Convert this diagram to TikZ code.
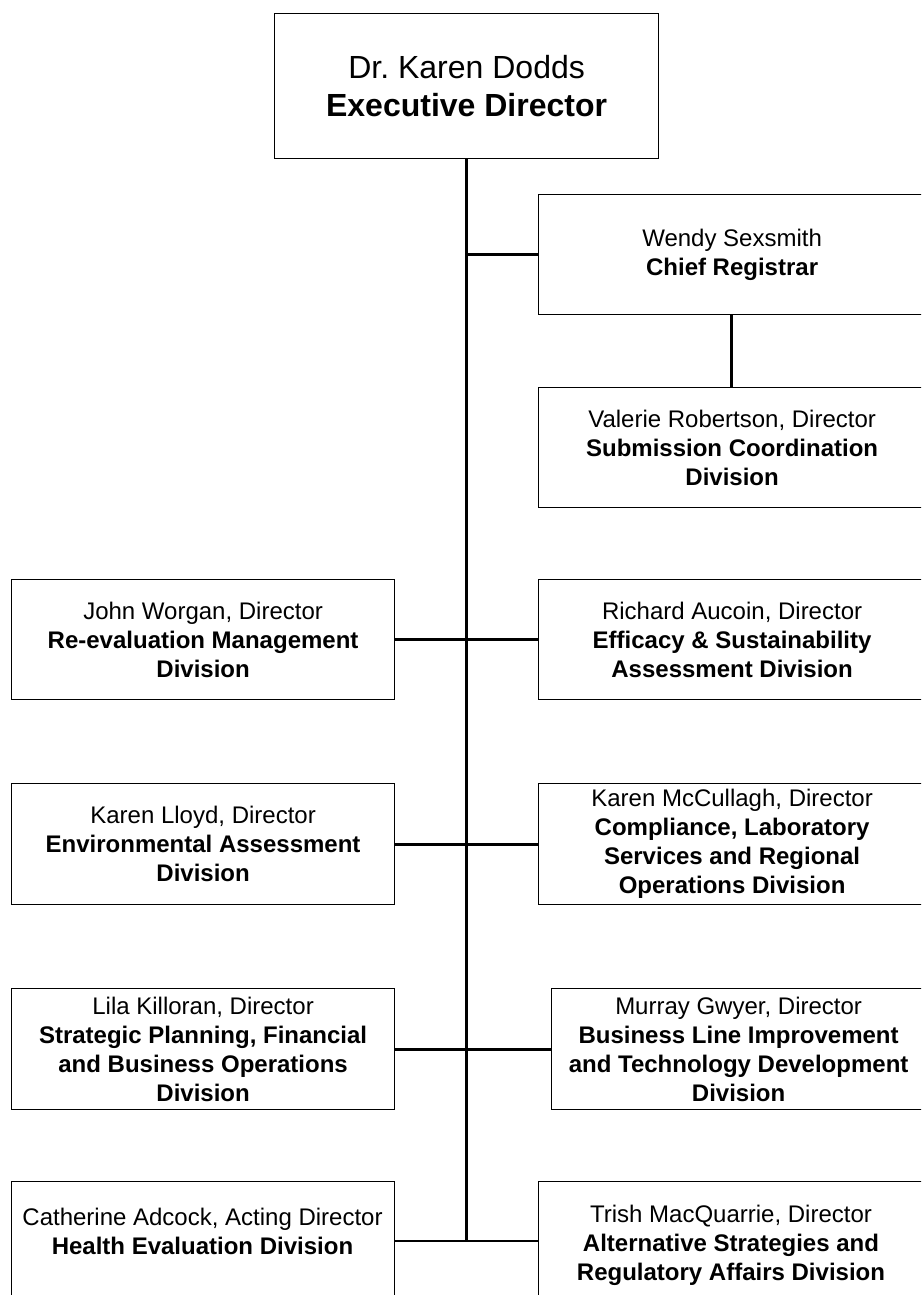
\documentclass[tikz,border=0pt]{standalone}
\usepackage{fontspec}
\setmainfont{Liberation Sans}
\frenchspacing
\begin{document}
\begin{tikzpicture}[x=1pt,y=-1pt,
  orgbox/.style={draw, line width=1.2pt, inner sep=0pt, align=center, anchor=north west,
    font=\fontsize{24}{29}\selectfont},
  boxtext/.style={inner sep=0pt, align=center, font=\fontsize{24}{29}\selectfont},
  conn/.style={line width=2.8pt}]
\useasboundingbox (0,0) rectangle (921,1295);
\begin{scope}
\clip (0,0) rectangle (921,1295);
% top
\node[orgbox, minimum width=384pt, minimum height=145pt, font=\fontsize{32}{38}\selectfont] (top) at (274,13)
  {Dr.\ Karen Dodds\\\textbf{Executive Director}};
% chief registrar
\node[orgbox, minimum width=387pt, minimum height=120pt] (chief) at (538,194)
  {Wendy Sexsmith\\\textbf{Chief Registrar}};
\node[orgbox, minimum width=387pt, minimum height=120pt] (sub) at (538,387)
  {Valerie Robertson, Director\\\textbf{Submission Coordination}\\\textbf{Division}};
% row 2
\node[orgbox, minimum width=383pt, minimum height=120pt] (l2) at (11,579)
  {John Worgan, Director\\\textbf{Re-evaluation Management}\\\textbf{Division}};
\node[orgbox, minimum width=387pt, minimum height=120pt] (r2) at (538,579)
  {Richard Aucoin, Director\\\textbf{Efficacy \& Sustainability}\\\textbf{Assessment Division}};
% row 3
\node[orgbox, minimum width=383pt, minimum height=121pt] (l3) at (11,783)
  {Karen Lloyd, Director\\\textbf{Environmental Assessment}\\\textbf{Division}};
\node[orgbox, minimum width=387pt, minimum height=121pt] (r3) at (538,783)
  {Karen McCullagh, Director\\\textbf{Compliance, Laboratory}\\\textbf{Services and Regional}\\\textbf{Operations Division}};
% row 4
\node[orgbox, minimum width=383pt, minimum height=121pt] (l4) at (11,988)
  {Lila Killoran, Director\\\textbf{Strategic Planning, Financial}\\\textbf{and Business Operations}\\\textbf{Division}};
\node[orgbox, minimum width=374pt, minimum height=121pt] (r4) at (551,988)
  {Murray Gwyer, Director\\\textbf{Business Line Improvement}\\\textbf{and Technology Development}\\\textbf{Division}};
% row 5
\node[orgbox, minimum width=383pt, minimum height=130pt] (l5) at (11,1181) {};
\node[orgbox, minimum width=387pt, minimum height=130pt] (r5) at (538,1181) {};
\node[boxtext] (l5t) at (202.5,1231) {Catherine Adcock, Acting Director\\\textbf{Health Evaluation Division}};
\node[boxtext] (r5t) at (731,1245) {Trish MacQuarrie, Director\\\textbf{Alternative Strategies and}\\\textbf{Regulatory Affairs Division}};
% connectors
\coordinate (j5) at ([yshift=-60pt]l5.north east);
\coordinate (k5) at ([yshift=-60pt]r5.north west);
\draw[conn] (top.south) -- (j5 -| top.south);
\draw[conn] (chief.west) -- (chief.west -| top.south);
\draw[conn] ([xshift=-1pt]chief.south) -- ([xshift=-1pt]sub.north);
\draw[conn] (l2.east) -- (r2.west);
\draw[conn] (l3.east) -- (r3.west);
\draw[conn] (l4.east) -- (r4.west);
\draw[conn] (j5) -- (k5);
\end{scope}
\end{tikzpicture}
\end{document}
